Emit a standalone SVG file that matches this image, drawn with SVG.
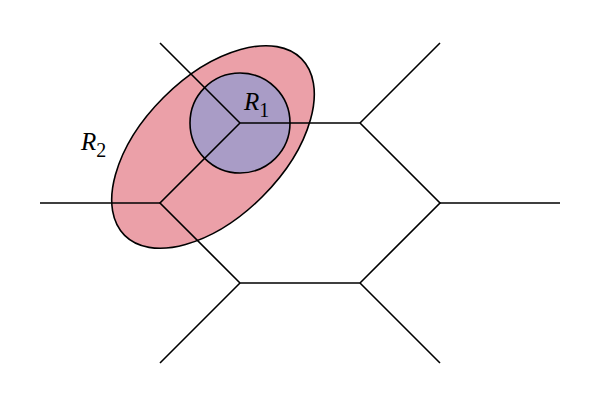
<svg xmlns="http://www.w3.org/2000/svg" width="610" height="406" viewBox="0 0 610 406">
<style>
.l{stroke:#000;stroke-width:1.6;fill:none}
.t{font-family:"Liberation Serif",serif;font-style:italic;font-size:25px}
.s{font-family:"Liberation Serif",serif;font-size:20px}
</style>
<rect width="610" height="406" fill="#fff"/>
<g id="R2"><ellipse cx="213" cy="147" rx="125" ry="70" transform="rotate(-45 213 147)" fill="#eba0a8" stroke="#000" stroke-width="1.6"/></g>
<g id="R1"><circle cx="240" cy="123" r="50" fill="#a99cc6" stroke="#000" stroke-width="1.6"/></g>
<g id="connectors" class="l">
<path d="M240,123 L360,123 L440,203 L360,283 L240,283 L160,203 Z"/>
<path d="M240,123 L160,43 M360,123 L440,43 M440,203 L560,203 M360,283 L440,363 M240,283 L160,363 M160,203 L40,203"/>
</g>
<g id="labels">
<text x="244" y="110" class="t">R<tspan class="s" font-style="normal" dy="7">1</tspan></text>
<text x="81" y="150" class="t">R<tspan class="s" font-style="normal" dy="7">2</tspan></text>
</g>
</svg>
